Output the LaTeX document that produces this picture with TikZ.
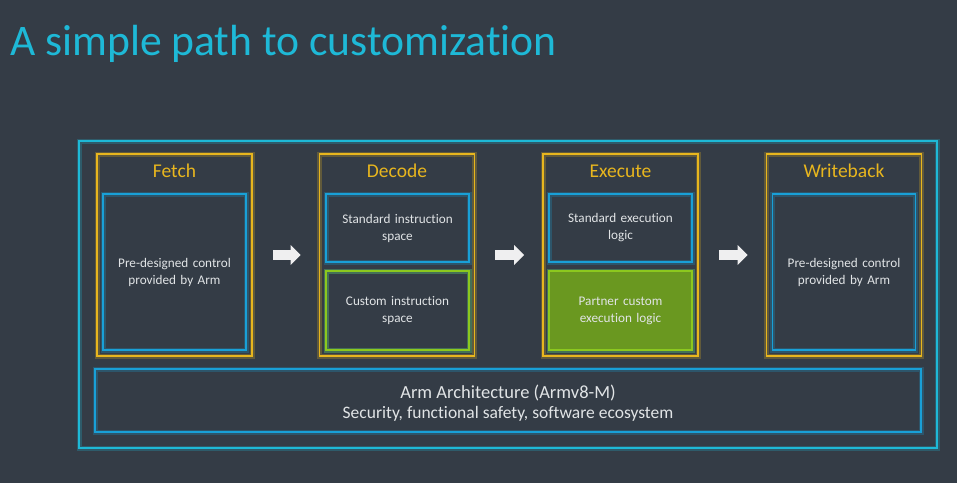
\documentclass[tikz,border=0pt]{standalone}
\usepackage{fontspec}
\setmainfont{Carlito}[Ligatures=NoCommon]
\usepackage{xcolor}
\definecolor{slidebg}{RGB}{52,60,70}
\definecolor{armcyan}{RGB}{30,185,215}
\definecolor{armblue}{RGB}{25,160,215}
\definecolor{armgold}{RGB}{232,182,30}
\definecolor{armgreen}{RGB}{140,200,30}
\definecolor{armgreenfill}{RGB}{106,152,32}
\definecolor{armtext}{RGB}{225,228,230}
\usepackage{tikz}
\usetikzlibrary{arrows.meta, positioning}

\begin{document}
\begin{tikzpicture}[
  x=1pt, y=-1pt,
  glow/.style={preaction={draw=#1, opacity=0.25, line width=5pt}},
  outer/.style={rectangle, draw=armcyan, line width=1.8pt, glow=armcyan, minimum width=858pt, minimum height=307pt},
  stage/.style={rectangle, draw=armgold, line width=1.6pt, glow=armgold, minimum width=155pt, minimum height=202pt},
  stagetitle/.style={font=\fontsize{19.5}{22}\selectfont, text=armgold},
  std/.style={rectangle, draw=armblue, line width=1.6pt, glow=armblue, minimum width=143pt, text width=136pt, align=center, font=\fontsize{13.2}{17}\selectfont, text=armtext},
  custom/.style={std, draw=armgreen, glow=armgreen},
  blockarrow/.style={-{Triangle[length=10pt, width=19pt]}, line width=10pt, draw=white!92!slidebg}
]

\useasboundingbox[fill=slidebg] (0,0) rectangle (957,483);

% Title
\node[anchor=base west, inner sep=0pt, text=armcyan, font=\fontsize{43.6}{50}\selectfont] (title) at (10,55) {A simple path to customization};

% Outer frame
\node[outer] (core) at (508,294.5) {};

% Stages
\node[stage] (fetch) at (174.5,255) {};
\node[stage] (decode) at (397,255) {};
\node[stage] (execute) at (620.5,255) {};
\node[stage] (writeback) at (844,255) {};

\node[stagetitle] at (174.5,171) {Fetch};
\node[stagetitle] at (397,171) {Decode};
\node[stagetitle] at (620.5,171) {Execute};
\node[stagetitle] at (844,171) {Writeback};

% Inner blocks
\node[std, minimum height=156pt] (fetchctl) at (174.5,272) {Pre-designed control\\provided by Arm};
\node[std, minimum height=68pt] (decstd) at (397.5,228) {Standard instruction\\space};
\node[custom, minimum height=79pt] (deccus) at (397.5,310.5) {Custom instruction\\space};
\node[std, minimum height=68pt] (exestd) at (620.5,228) {Standard execution\\logic};
\node[custom, fill=armgreenfill, minimum height=79pt] (execus) at (620.5,310.5) {Partner custom\\execution logic};
\node[std, minimum height=156pt] (wbctl) at (844,272) {Pre-designed control\\provided by Arm};

% Architecture base
\node[std, minimum width=826pt, minimum height=63pt] (arch) at (508,400.5) {};
\node[text=armtext, align=center, font=\fontsize{17.5}{20}\selectfont] (archtext) at (508,403) {{\fontsize{18.5}{20}\selectfont Arm Architecture (Armv8-M)}\\Security, functional safety, software ecosystem};

% Flow
\draw[blockarrow] ([xshift=20pt]fetch.east) -- ([xshift=-18pt]decode.west);
\draw[blockarrow] ([xshift=20pt]decode.east) -- ([xshift=-18pt]execute.west);
\draw[blockarrow] ([xshift=20pt]execute.east) -- ([xshift=-18pt]writeback.west);

\end{tikzpicture}
\end{document}
